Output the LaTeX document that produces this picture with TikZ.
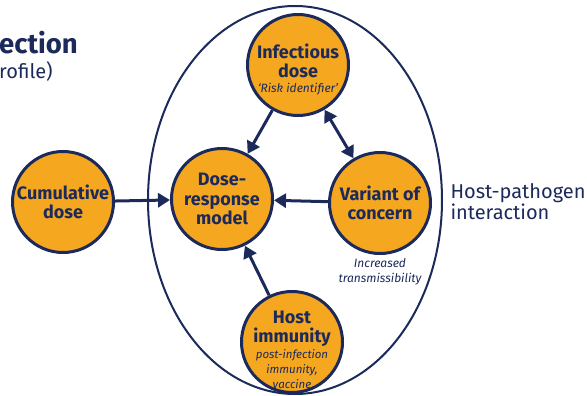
\documentclass[tikz,border=0pt]{standalone}
\usepackage{fontspec}
\setmainfont{Fira Sans}
\usetikzlibrary{arrows.meta,positioning}
\definecolor{navy}{HTML}{1C2A5B}
\definecolor{amber}{HTML}{F5A720}
\newcommand{\sidenote}[1]{{\fontsize{11.5}{14}\selectfont\mdseries\itshape #1}}
\tikzset{
  factor/.style={circle,draw=navy,fill=amber,line width=3pt,minimum size=101pt,inner sep=0pt,
    align=center,text=navy,font=\fontsize{18}{19.5}\selectfont\bfseries},
  factortext/.style={text=navy,align=center,font=\fontsize{18}{19}\selectfont\bfseries},
  link/.style={draw=navy,line width=3pt,-{Triangle[length=12pt,width=14pt]}},
  note/.style={text=navy,align=center,font=\fontsize{12}{15}\selectfont\itshape}
}
\begin{document}
\begin{tikzpicture}[x=1pt,y=-1pt]
\useasboundingbox (0,0) rectangle (587,396);
\draw[navy,line width=2pt] (295,200) ellipse [x radius=147,y radius=194];
\node[anchor=west,text=navy,font=\fontsize{27.5}{30}\selectfont\bfseries,inner sep=0pt] (ttl) at (-1,43) {ection};
\node[anchor=west,text=navy,font=\fontsize{20}{22}\selectfont,inner sep=0pt] (sub) at (-1,71) {rofile)};
\node[factor] (cum) at (63,202) {Cumulative\\dose};
\node[factor] (dr) at (222,199) {Dose-\\response\\model};
\node[factor] (inf) at (298,65) {};
\node[factortext] (inft) at (298,69) {Infectious\\dose\\[-4pt]{\fontsize{12}{14}\selectfont\mdseries\itshape ‘Risk identifier’}};
\node[factor] (voc) at (380,203) {Variant of\\concern};
\node[factor] (him) at (292,342) {};
\node[factortext] (himt) at (292,350)
  {Host\\immunity\\[-3pt]\sidenote{post-infection}\\[-4pt]\sidenote{immunity,}\\[-4pt]\sidenote{vaccine}};
\node[note] (trans) at (380,272) {Increased\\transmissibility};
\node[anchor=west,text=navy,align=left,font=\fontsize{20}{21}\selectfont] (hpi) at (447,202) {Host-pathogen\\interaction};
\draw[link] (cum) -- (dr);
\draw[link] (inf) -- (dr);
\draw[link] (voc) -- (dr);
\draw[link] (him) -- (dr);
\draw[link,{Triangle[length=12pt,width=14pt]}-{Triangle[length=12pt,width=14pt]}] (inf) -- (voc);
\end{tikzpicture}
\end{document}
